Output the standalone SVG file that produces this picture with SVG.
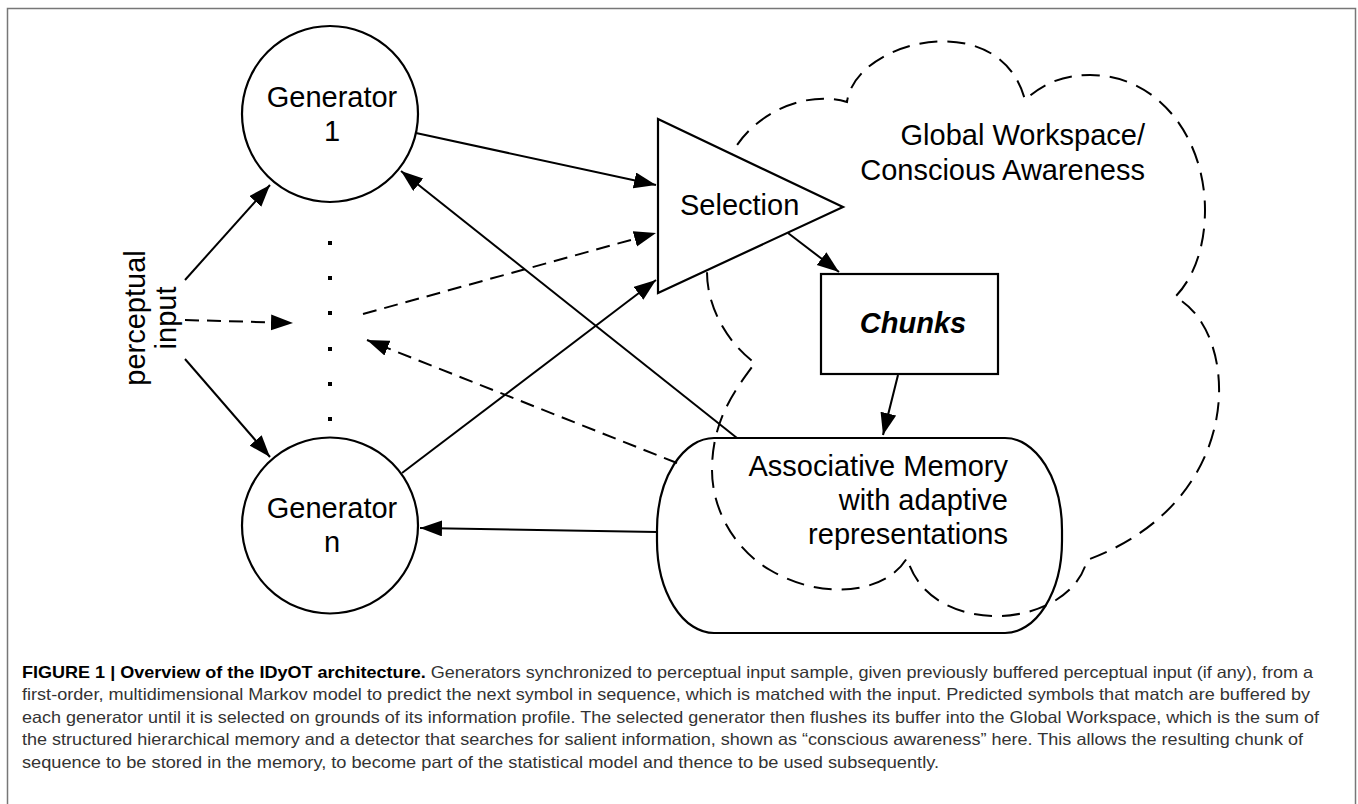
<svg xmlns="http://www.w3.org/2000/svg" width="1358" height="804" viewBox="0 0 1358 804">
<defs>
<marker id="ah" markerUnits="userSpaceOnUse" markerWidth="23" markerHeight="17" refX="22" refY="8" orient="auto">
<path d="M0,0 L22,8 L0,16 z" fill="#000"/>
</marker>
<style>
.ln{stroke:#000;stroke-width:2;fill:none}
.ds{stroke:#000;stroke-width:2;fill:none;stroke-dasharray:14 8}
.cl{stroke:#000;stroke-width:2;fill:none;stroke-dasharray:18 10}
.nd{stroke:#000;stroke-width:2.2;fill:#fff}
.lb{font-family:"Liberation Sans",Arial,Helvetica,sans-serif;font-size:29px;fill:#000}
.cap{font-family:"Liberation Sans",Arial,Helvetica,sans-serif;font-size:16.5px;fill:#333}
.dot{fill:#000}
</style>
</defs>
<rect x="7.5" y="8.5" width="1348" height="820" fill="#fff" stroke="#777" stroke-width="1.5"/>

<g id="cloud">
<path class="cl" d="M725,170 C740,120 800,88 847,102 C855,40 1000,5 1025,100 C1045,82 1065,75 1090,75 C1160,75 1205,140 1205,210 C1205,250 1192,280 1175,297 C1240,330 1250,500 1087,560 C1070,630 930,640 907,558 C885,595 820,600 770,570 C735,550 712,510 712,470 C712,420 735,390 755,363 C730,345 707,310 707,272"/>
</g>

<g id="connectors">
<line class="ln" x1="185" y1="280" x2="270" y2="185" marker-end="url(#ah)"/>
<line class="ds" x1="185" y1="320" x2="293" y2="323" marker-end="url(#ah)"/>
<line class="ln" x1="185" y1="359" x2="270" y2="457" marker-end="url(#ah)"/>
<line class="ln" x1="416" y1="133" x2="656" y2="185" marker-end="url(#ah)"/>
<line class="ds" x1="363" y1="314" x2="656" y2="233" marker-end="url(#ah)"/>
<line class="ln" x1="402" y1="473" x2="656" y2="280" marker-end="url(#ah)"/>
<line class="ln" x1="737" y1="438" x2="401" y2="171" marker-end="url(#ah)"/>
<line class="ds" x1="677" y1="463" x2="367" y2="340" marker-end="url(#ah)"/>
<line class="ln" x1="657" y1="532" x2="420" y2="528" marker-end="url(#ah)"/>
<line class="ln" x1="788" y1="233" x2="839" y2="272" marker-end="url(#ah)"/>
<line class="ln" x1="898" y1="375" x2="883" y2="435" marker-end="url(#ah)"/>
</g>

<g id="generator1">
<circle class="nd" cx="330" cy="114" r="88"/>
<text class="lb" x="332" y="107" text-anchor="middle">Generator</text>
<text class="lb" x="332" y="141" text-anchor="middle">1</text>
</g>

<g id="generatorN">
<circle class="nd" cx="330" cy="525.5" r="88"/>
<text class="lb" x="332" y="518" text-anchor="middle">Generator</text>
<text class="lb" x="332" y="552" text-anchor="middle">n</text>
</g>

<g id="dots">
<rect class="dot" x="328" y="241" width="4" height="4"/>
<rect class="dot" x="328" y="276" width="4" height="4"/>
<rect class="dot" x="328" y="311" width="4" height="4"/>
<rect class="dot" x="328" y="347" width="4" height="4"/>
<rect class="dot" x="328" y="382" width="4" height="4"/>
<rect class="dot" x="328" y="417" width="4" height="4"/>
</g>

<g id="perceptual-input">
<text class="lb" transform="translate(145,318) rotate(-90)" text-anchor="middle">perceptual</text>
<text class="lb" transform="translate(176,318) rotate(-90)" text-anchor="middle">input</text>
</g>

<g id="selection">
<polygon class="nd" points="658,119 843,207 658,293"/>
<text class="lb" x="680" y="215">Selection</text>
</g>

<g id="workspace-label">
<text class="lb" x="1145" y="145" text-anchor="end">Global Workspace/</text>
<text class="lb" x="1145" y="180" text-anchor="end">Conscious Awareness</text>
</g>

<g id="chunks">
<rect class="nd" x="821" y="274" width="177" height="100"/>
<text class="lb" x="913" y="333" text-anchor="middle" font-weight="bold" font-style="italic">Chunks</text>
</g>

<g id="memory">
<rect x="657" y="438" width="405" height="195" rx="57" ry="92" fill="none" stroke="#000" stroke-width="2.2"/>
<text class="lb" x="1008" y="476" text-anchor="end">Associative Memory</text>
<text class="lb" x="1008" y="510" text-anchor="end">with adaptive</text>
<text class="lb" x="1008" y="544" text-anchor="end">representations</text>
</g>

<g id="caption">
<text class="cap" x="22" y="678" textLength="1291" lengthAdjust="spacingAndGlyphs"><tspan font-weight="bold" fill="#000">FIGURE 1 | Overview of the IDyOT architecture.</tspan> Generators synchronized to perceptual input sample, given previously buffered perceptual input (if any), from a</text>
<text class="cap" x="22" y="700" textLength="1288" lengthAdjust="spacingAndGlyphs">first-order, multidimensional Markov model to predict the next symbol in sequence, which is matched with the input. Predicted symbols that match are buffered by</text>
<text class="cap" x="22" y="723" textLength="1297" lengthAdjust="spacingAndGlyphs">each generator until it is selected on grounds of its information profile. The selected generator then flushes its buffer into the Global Workspace, which is the sum of</text>
<text class="cap" x="22" y="745" textLength="1281" lengthAdjust="spacingAndGlyphs">the structured hierarchical memory and a detector that searches for salient information, shown as “conscious awareness” here. This allows the resulting chunk of</text>
<text class="cap" x="22" y="768" textLength="917" lengthAdjust="spacingAndGlyphs">sequence to be stored in the memory, to become part of the statistical model and thence to be used subsequently.</text>
</g>
</svg>
